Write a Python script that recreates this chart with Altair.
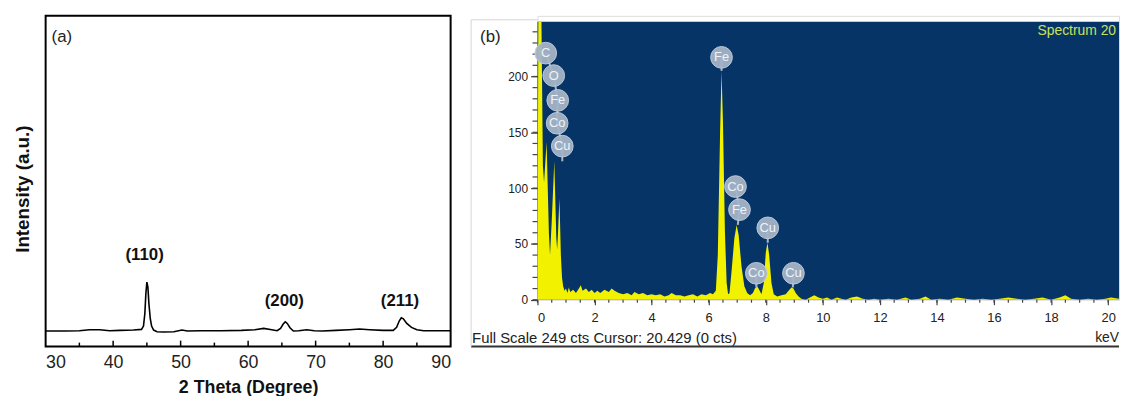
import altair as alt
import pandas as pd

FONT = "Liberation Sans"

# ---------------- Panel (a): XRD pattern ----------------
two_theta = [30, 33, 35, 36.5, 38, 39.5, 41, 43, 44.2, 44.5, 44.7, 44.85, 45.0, 45.15, 45.3, 45.5,
             45.7, 46.0, 46.5, 47.5, 49, 50.2, 51, 53, 56, 59, 61, 62.3, 63.5, 64.3, 64.8, 65.2,
             65.5, 65.8, 66.2, 66.7, 67.5, 68.7, 69.8, 71, 73, 75, 76.5, 78, 80, 81.5, 82.0, 82.4,
             82.7, 83.0, 83.5, 84.2, 85, 86, 88, 90]
intensity = [47, 47, 48, 51, 51, 48, 49, 50, 52, 62, 100, 160, 195, 180, 130, 85,
             62, 50, 45, 44, 45, 50, 47, 48, 48, 49, 51, 55, 51, 48, 55, 68,
             75, 70, 57, 47, 48, 51, 48, 47, 49, 51, 53, 51, 49, 49, 58, 78,
             87, 84, 70, 58, 51, 48, 48, 48]
hkl_text = ["(110)", "(200)", "(211)"]
hkl_theta = [44.67, 65.36, 82.5]
hkl_int = [278, 138, 138]
x_labels_a = [30, 40, 50, 60, 70, 80, 90]
major_ticks_a = [40, 50, 60, 70, 80]
minor_ticks_a = [35, 45, 55, 65, 75, 85]

# ---------------- Panel (b): EDS spectrum ----------------
energy = [0.00, 0.03, 0.14, 0.19, 0.23, 0.32, 0.40, 0.44, 0.50, 0.59, 0.66, 0.69, 0.72, 0.77, 0.82,
          0.86, 0.90, 0.95, 1.00, 1.05, 1.10, 1.15, 1.25, 1.35, 1.45, 1.52, 1.58, 1.70, 1.80, 1.90,
          2.00, 2.10, 2.20, 2.35, 2.50, 2.60, 2.70, 2.85, 3.00, 3.15, 3.30, 3.40, 3.55, 3.70, 3.85,
          4.00, 4.15, 4.30, 4.45, 4.60, 4.70, 4.85, 5.00, 5.15, 5.30, 5.45, 5.60, 5.75, 5.90, 6.05,
          6.15, 6.25, 6.32, 6.40, 6.45, 6.50, 6.57, 6.63, 6.68, 6.73, 6.80, 6.90, 6.98, 7.05, 7.15,
          7.25, 7.35, 7.45, 7.55, 7.62, 7.70, 7.77, 7.85, 7.93, 8.00, 8.06, 8.12, 8.20, 8.28, 8.40,
          8.55, 8.70, 8.80, 8.90, 8.97, 9.05, 9.15, 9.25, 9.40, 9.55, 9.70, 9.85, 10.00, 10.15, 10.30,
          10.50, 10.65, 10.80, 11.00, 11.20, 11.40, 11.60, 11.80, 12.00, 12.30, 12.60, 12.90, 13.10,
          13.40, 13.60, 13.80, 14.10, 14.40, 14.70, 15.00, 15.30, 15.60, 15.90, 16.20, 16.50, 16.80,
          17.10, 17.40, 17.70, 18.00, 18.30, 18.50, 18.70, 19.00, 19.30, 19.60, 19.90, 20.10, 20.38]
counts = [0, 249, 249, 120, 105, 141, 60, 40, 70, 124, 55, 45, 60, 91, 40,
          20, 12, 8, 10, 6, 11, 7, 9, 6, 10, 13, 8, 10, 7, 9,
          6, 8, 6, 9, 7, 10, 8, 6, 5, 6, 4, 7, 5, 6, 4,
          5, 4, 5, 3, 4, 6, 4, 4, 3, 4, 5, 3, 5, 4, 6,
          5, 8, 40, 150, 205, 160, 60, 15, 5, 6, 25, 55, 67, 58, 30,
          12, 6, 4, 6, 10, 12, 9, 5, 15, 42, 51, 40, 15, 5, 3,
          4, 5, 8, 11, 10, 6, 3, 1, 0, 2, 4, 2, 1, 2, 0,
          2, 1, 0, 2, 3, 1, 0, 1, 0, 1, 0, 2, 0,
          1, 3, 0, 1, 0, 2, 1, 0, 1, 0, 1, 2, 1,
          0, 1, 2, 0, 2, 4, 1, 0, 1, 0, 1, 2, 1]
elem_text = ["C", "O", "Fe", "Co", "Cu", "Fe", "Co", "Fe", "Cu", "Co", "Cu"]
elem_kev = [0.29, 0.57, 0.71, 0.69, 0.87, 6.45, 6.94, 7.08, 8.07, 7.67, 8.97]
elem_cts = [220.9, 200.8, 178.6, 158.1, 137.6, 217.1, 101.4, 80.7, 64.4, 23.7, 23.7]
stem_kev = [0.57, 0.71, 0.69, 0.87, 0.87, 6.45, 7.08, 7.02, 8.07, 7.67, 8.95]
stem_cts = [200.8, 178.6, 158.1, 137.6, 124, 205, 80.7, 67, 51, 11, 11]
full_scale = 249
kev_max = 20.38
y_labels_b = [0, 50, 100, 150, 200]
y_minor_b = list(range(0, 250, 10))
x_labels_b = list(range(0, 21, 2))
x_minor_b = [i * 0.5 for i in range(0, 41)]

# ---------------- build panel (a) ----------------
WA, HA = 409, 334
df_a = pd.DataFrame({"theta": two_theta, "I": intensity})
xa = alt.Scale(domain=[30, 90], nice=False)
ya = alt.Scale(domain=[0, 1000], nice=False)

line_a = alt.Chart(df_a).mark_line(color="black", strokeWidth=1.6).encode(
    x=alt.X("theta:Q", scale=xa, axis=alt.Axis(
        values=x_labels_a, title="2 Theta (Degree)", ticks=False, tickSize=0, domain=False,
        grid=False, labelFontSize=18, labelFont=FONT, labelColor="#222", labelPadding=7,
        titleFontSize=18, titleFont=FONT, titleFontWeight="bold", titleColor="#111",
        titleBaseline="alphabetic", titleY=46)),
    y=alt.Y("I:Q", scale=ya, axis=alt.Axis(
        labels=False, ticks=False, domain=False, grid=False, title="Intensity (a.u.)",
        titleFontSize=19, titleFont=FONT, titleFontWeight="bold", titleColor="#111",
        titleAngle=270, titleBaseline="alphabetic", titleAlign="center", titleX=-17, titleY=174.5)),
)
hkl_df = pd.DataFrame({"t": hkl_text, "theta": hkl_theta, "I": hkl_int})
hkl = alt.Chart(hkl_df).mark_text(font=FONT, fontSize=17, fontWeight="bold", color="#111",
                                  baseline="middle").encode(
    x=alt.X("theta:Q", scale=xa), y=alt.Y("I:Q", scale=ya), text="t:N")
maj_df = pd.DataFrame({"theta": major_ticks_a})
min_df = pd.DataFrame({"theta": minor_ticks_a})
maj = alt.Chart(maj_df).mark_rule(color="black", strokeWidth=1.5).encode(
    x=alt.X("theta:Q", scale=xa), y=alt.value(HA), y2=alt.value(HA - 6))
mnr = alt.Chart(min_df).mark_rule(color="black", strokeWidth=1.5).encode(
    x=alt.X("theta:Q", scale=xa), y=alt.value(HA), y2=alt.value(HA - 4))
lab_a = alt.Chart(pd.DataFrame({"t": ["(a)"]})).mark_text(
    font=FONT, fontSize=17, color="#222", align="left", baseline="middle").encode(
    text="t:N", x=alt.value(6), y=alt.value(21))

panel_a = alt.layer(line_a, maj, mnr, hkl, lab_a).properties(
    width=WA, height=HA, view=alt.ViewBackground(stroke="black", strokeWidth=2))

# ---------------- build panel (b) ----------------
WB, HB = 587.3, 286.7
xb = alt.Scale(domain=[0, kev_max], nice=False)
yb = alt.Scale(domain=[0, 254.3], nice=False)
BLUE = "#073466"
YEL = "#f2f200"

bg = alt.Chart(pd.DataFrame({"x0": [0], "x1": [kev_max], "y0": [0], "y1": [full_scale]})).mark_rect(
    color=BLUE).encode(
    x=alt.X("x0:Q", scale=xb, axis=alt.Axis(
        values=x_labels_b, title=None, grid=False, domain=False, tickColor="#444", tickSize=5,
        tickWidth=1.2, labelFontSize=13, labelFont=FONT, labelColor="#222", labelPadding=7,
        labelOverlap=False)),
    x2="x1:Q",
    y=alt.Y("y0:Q", scale=yb, axis=alt.Axis(
        values=y_labels_b, title=None, grid=False, domain=False, tickColor="#444", tickSize=7,
        tickWidth=1.2, labelFontSize=12, labelFont=FONT, labelColor="#222", labelPadding=3,
        labelOverlap=False)),
    y2="y1:Q",
)
ymin_df = pd.DataFrame({"c": y_minor_b})
ymin = alt.Chart(ymin_df).mark_rule(color="#444", strokeWidth=1.2).encode(
    y=alt.Y("c:Q", scale=yb), x=alt.value(-5), x2=alt.value(0))
xmin_df = pd.DataFrame({"e": x_minor_b})
xmin = alt.Chart(xmin_df).mark_rule(color="#444", strokeWidth=1.2).encode(
    x=alt.X("e:Q", scale=xb), y=alt.value(HB), y2=alt.value(HB + 3))
df_b = pd.DataFrame({"e": energy, "c": counts})
spec = alt.Chart(df_b).mark_area(color=YEL, opacity=1, interpolate="linear").encode(
    x=alt.X("e:Q", scale=xb), y=alt.Y("c:Q", scale=yb))
el_df = pd.DataFrame({"t": elem_text, "e": elem_kev, "c": elem_cts, "e2": stem_kev, "c2": stem_cts})
stems = alt.Chart(el_df).mark_rule(color="#a8b6c8", strokeWidth=2).encode(
    x=alt.X("e:Q", scale=xb), y=alt.Y("c:Q", scale=yb), x2="e2:Q", y2="c2:Q")
circ = alt.Chart(el_df).mark_point(shape="circle", filled=True, size=480, color="#a5b4c7",
                                   opacity=0.95, stroke="#c3cedb", strokeWidth=1).encode(
    x=alt.X("e:Q", scale=xb), y=alt.Y("c:Q", scale=yb))
ctext = alt.Chart(el_df).mark_text(font=FONT, fontSize=13, color="#eef3f8",
                                   baseline="middle").encode(
    x=alt.X("e:Q", scale=xb), y=alt.Y("c:Q", scale=yb), text="t:N")
spectrum_lab = alt.Chart(pd.DataFrame({"t": ["Spectrum 20"]})).mark_text(
    font=FONT, fontSize=14, color="#c8e25a", align="right", baseline="middle").encode(
    text="t:N", x=alt.value(WB - 3), y=alt.value(15))
lab_b = alt.Chart(pd.DataFrame({"t": ["(b)"]})).mark_text(
    font=FONT, fontSize=17, color="#222", align="left", baseline="middle").encode(
    text="t:N", x=alt.value(-58), y=alt.value(21))
status = alt.Chart(pd.DataFrame({"t": ["Full Scale 249 cts Cursor: 20.429  (0 cts)"]})).mark_text(
    font=FONT, fontSize=15, color="#222", align="left", baseline="middle").encode(
    text="t:N", x=alt.value(-66), y=alt.value(325))
kev = alt.Chart(pd.DataFrame({"t": ["keV"]})).mark_text(
    font=FONT, fontSize=14, color="#222", align="right", baseline="middle").encode(
    text="t:N", x=alt.value(WB), y=alt.value(325))
bottom_line = alt.Chart(pd.DataFrame({"a": [0]})).mark_rule(color="#333", strokeWidth=2).encode(
    x=alt.value(-67), x2=alt.value(WB), y=alt.value(334), y2=alt.value(334))
left_edge = alt.Chart(pd.DataFrame({"a": [0]})).mark_rule(color="#d4d4d4", strokeWidth=1).encode(
    x=alt.value(-67), x2=alt.value(-67), y=alt.value(4), y2=alt.value(334))
top_edge = alt.Chart(pd.DataFrame({"a": [0]})).mark_rule(color="#d4d4d4", strokeWidth=1).encode(
    x=alt.value(-67), x2=alt.value(0), y=alt.value(4), y2=alt.value(4))

panel_b = alt.layer(bg, spec, ymin, xmin, stems, circ, ctext, spectrum_lab, lab_b, status, kev,
                    bottom_line, left_edge, top_edge).properties(width=WB, height=HB)

chart = alt.hconcat(panel_a, panel_b, spacing=87.7, bounds="flush").properties(
    padding={"left": 5, "top": 5, "right": 0, "bottom": 0}
).configure_view(stroke=None).configure(font=FONT, background="white")

chart.save("out.html", embed_options={"renderer": "svg", "actions": False})
